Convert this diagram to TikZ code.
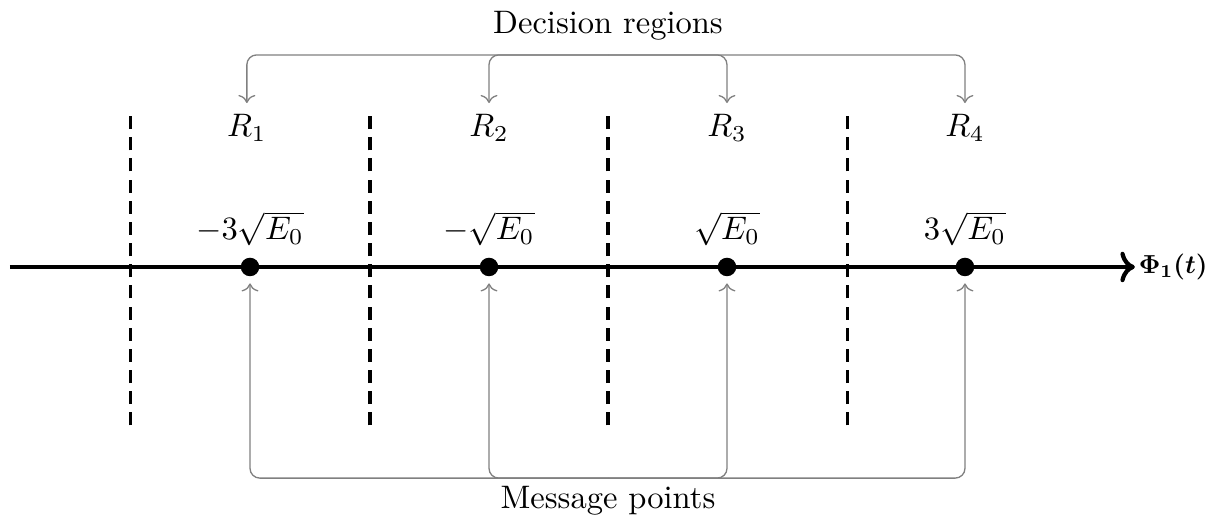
\documentclass[tikz,border=0pt]{standalone}
\usepackage{bm}
\usetikzlibrary{arrows.meta}

\begin{document}
\begin{tikzpicture}[
    pt/.style={circle, fill=black, inner sep=0pt, minimum size=0.2cm},
    pointer/.style={->, gray, thin, rounded corners=3pt},
    boundary/.style={line width=1pt, dash pattern=on 4pt off 2.5pt}]
    \useasboundingbox (-6.566,-2.732) rectangle (6.512,2.883);
    % axis
    \coordinate (A0) at (-6.46,0);
    \coordinate (A1) at (5.69,0);
    \draw[->, line width=1.3pt] (A0) -- (A1) node[right=-2pt, scale=0.8] {$\bm{\Phi_1(t)}$};
    % decision boundaries
    \foreach \x in {-5.16,-2.57,0,2.59}
        \draw[boundary] (\x,-1.71) -- (\x,1.64);
    % message points
    \node[pt, label={[label distance=0pt]above:$-3\sqrt{E_0}$}] (P1) at (-3.866,0) {};
    \node[pt, label={[label distance=0pt]above:$-\sqrt{E_0}$}] (P2) at (-1.285,0) {};
    \node[pt, label={[label distance=0pt]above:$\sqrt{E_0}$}] (P3) at (1.285,0) {};
    \node[pt, label={[label distance=0pt]above:$3\sqrt{E_0}$}] (P4) at (3.855,0) {};
    % regions
    \node (R1) at (-3.9,1.50) {$R_1$};
    \node (R2) at (-1.285,1.50) {$R_2$};
    \node (R3) at (1.285,1.50) {$R_3$};
    \node (R4) at (3.855,1.50) {$R_4$};
    % labels
    \node (DR) at (0,2.61) {Decision regions};
    \node (MP) at (0,-2.52) {Message points};
    \coordinate (DJ) at (0,2.29);
    \coordinate (MJ) at (0,-2.28);
    \foreach \n in {1,...,4} {
        \draw[pointer] (DJ) -| (R\n);
        \draw[pointer, shorten >=2pt] (MJ) -| (P\n);
    }
\end{tikzpicture}
\end{document}
